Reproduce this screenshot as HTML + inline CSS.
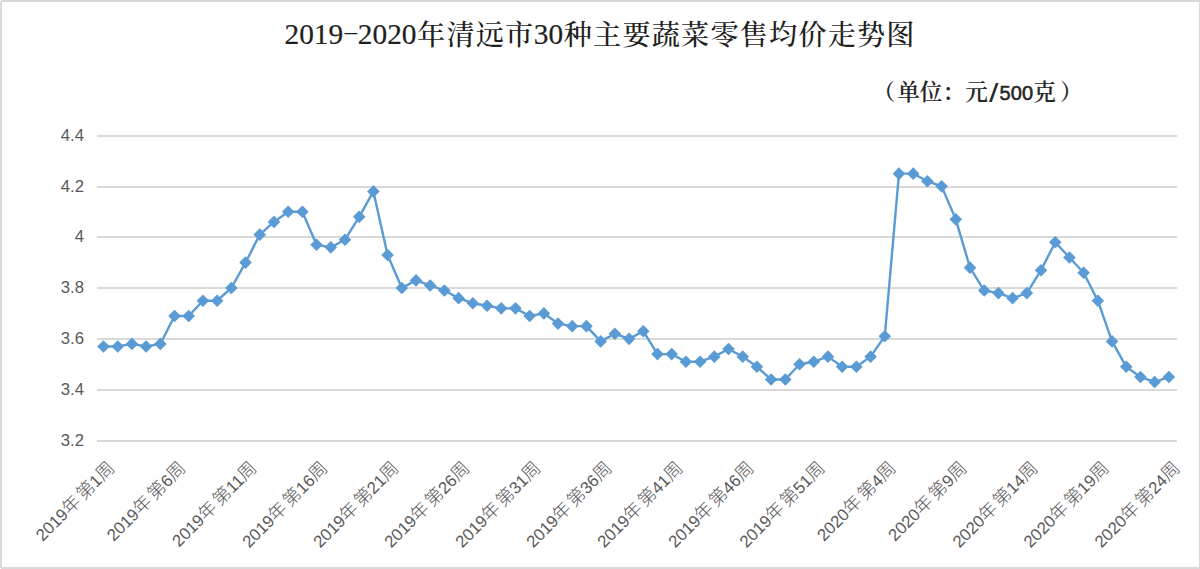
<!DOCTYPE html>
<html><head><meta charset="utf-8"><title>2019-2020年清远市30种主要蔬菜零售均价走势图</title>
<style>
html,body{margin:0;padding:0;background:#fff;}
body{width:1200px;height:569px;overflow:hidden;}
svg{display:block;}
.t{font-family:"Liberation Serif","Noto Serif CJK SC",serif;fill:#1f1f1f;font-weight:500;}
.td{stroke:#1f1f1f;stroke-width:0.2px;font-weight:400;}
.u{font-family:"Liberation Sans","Noto Serif CJK SC",sans-serif;fill:#262626;font-weight:600;}
.u2{font-family:"Liberation Sans",sans-serif;fill:#262626;stroke:#262626;stroke-width:0.55px;}
.us{font-family:"Liberation Sans",sans-serif;fill:#262626;}
.ya{font-family:"Liberation Sans","Noto Sans CJK SC",sans-serif;fill:#595959;font-size:16.7px;}
.xa{font-family:"Liberation Sans","Noto Sans CJK SC",sans-serif;fill:#595959;font-size:18px;font-weight:300;}
.xd{font-size:16.8px;font-weight:400;}
</style></head><body>
<svg width="1200" height="569" viewBox="0 0 1200 569">
<rect x="0" y="0" width="1200" height="569" fill="#fff"/>

<g fill="#D9D9D9"><rect x="1" y="0" width="1199" height="2"/><rect x="0" y="1" width="2" height="567"/><rect x="1" y="567" width="1199" height="2"/><rect x="1199" y="0" width="1" height="569"/></g>
<rect x="97" y="135" width="1080" height="2" fill="#D9D9D9"/>
<rect x="97" y="186" width="1080" height="2" fill="#D9D9D9"/>
<rect x="97" y="236" width="1080" height="2" fill="#D9D9D9"/>
<rect x="97" y="287" width="1080" height="2" fill="#D9D9D9"/>
<rect x="97" y="338" width="1080" height="2" fill="#D9D9D9"/>
<rect x="97" y="389" width="1080" height="2" fill="#D9D9D9"/>
<rect x="97" y="440" width="1080" height="2" fill="#D9D9D9"/>
<text class="ya" x="84" y="141.00" text-anchor="end">4.4</text>
<text class="ya" x="84" y="192.00" text-anchor="end">4.2</text>
<text class="ya" x="84" y="242.00" text-anchor="end">4</text>
<text class="ya" x="84" y="293.00" text-anchor="end">3.8</text>
<text class="ya" x="84" y="344.00" text-anchor="end">3.6</text>
<text class="ya" x="84" y="395.00" text-anchor="end">3.4</text>
<text class="ya" x="84" y="446.00" text-anchor="end">3.2</text>
<text class="t td" y="44" font-size="29.33" x="284.5 299.2 313.8 328.5">2019</text>
<text class="t" font-size="29.33" text-anchor="middle" transform="translate(350.85 33.4) scale(1.700 0.650)" x="0" y="7.60">-</text>
<text class="t td" y="44" font-size="29.33" x="357.8 372.5 387.2 401.8">2020</text>
<text class="t" y="45.00" font-size="28.20" x="417.1 446.4 475.7 505.0">年清远市</text>
<text class="t td" y="44" font-size="29.33" x="533.8 548.5">30</text>
<text class="t" y="45.00" font-size="28.20" x="563.7 593.0 622.4 651.7 681.0 710.4 739.7 769.0 798.3 827.7 857.0 886.3">种主要蔬菜零售均价走势图</text>
<text class="u" y="99.7" font-size="22.67" x="872.5 897.2 919.8 942.5 965.2">（单位：元</text>
<text class="us" font-size="22.67" text-anchor="middle" transform="translate(993.7 94.1) scale(1.500 1.130)" x="0" y="7.00">/</text>
<text class="u2" y="99.7" font-size="20.00" x="999.5 1010.8 1022.1">500</text>
<text class="u" y="99.7" font-size="22.67" x="1033.2 1060.0">克）</text>
<path d="M103.50 346.46 L117.70 346.46 L131.91 343.92 L146.12 346.46 L160.32 343.92 L174.53 315.96 L188.73 315.96 L202.94 300.71 L217.14 300.71 L231.34 288.00 L245.55 262.58 L259.75 234.63 L273.96 221.92 L288.16 211.75 L302.37 211.75 L316.57 244.79 L330.78 247.33 L344.99 239.71 L359.19 216.83 L373.39 191.42 L387.60 254.96 L401.81 288.00 L416.01 280.38 L430.21 285.46 L444.42 290.54 L458.62 298.17 L472.83 303.25 L487.04 305.79 L501.24 308.33 L515.44 308.33 L529.65 315.96 L543.86 313.42 L558.06 323.58 L572.26 326.13 L586.47 326.13 L600.67 341.38 L614.88 333.75 L629.09 338.83 L643.29 331.21 L657.50 354.08 L671.70 354.08 L685.90 361.71 L700.11 361.71 L714.32 356.63 L728.52 349.00 L742.73 356.63 L756.93 366.79 L771.13 379.50 L785.34 379.50 L799.54 364.25 L813.75 361.71 L827.96 356.63 L842.16 366.79 L856.37 366.79 L870.57 356.63 L884.77 336.29 L898.98 173.63 L913.19 173.63 L927.39 181.25 L941.60 186.33 L955.80 219.37 L970.00 267.67 L984.21 290.54 L998.41 293.08 L1012.62 298.17 L1026.83 293.08 L1041.03 270.21 L1055.24 242.25 L1069.44 257.50 L1083.64 272.75 L1097.85 300.71 L1112.05 341.38 L1126.26 366.79 L1140.46 376.96 L1154.67 382.04 L1168.88 376.96" fill="none" stroke="#5B9BD5" stroke-width="2.4" stroke-linejoin="round" stroke-linecap="round"/>
<path d="M103.50 340.16L109.80 346.46L103.50 352.76L97.20 346.46Z" fill="#5B9BD5"/>
<path d="M117.70 340.16L124.00 346.46L117.70 352.76L111.41 346.46Z" fill="#5B9BD5"/>
<path d="M131.91 337.62L138.21 343.92L131.91 350.22L125.61 343.92Z" fill="#5B9BD5"/>
<path d="M146.12 340.16L152.42 346.46L146.12 352.76L139.81 346.46Z" fill="#5B9BD5"/>
<path d="M160.32 337.62L166.62 343.92L160.32 350.22L154.02 343.92Z" fill="#5B9BD5"/>
<path d="M174.53 309.66L180.83 315.96L174.53 322.26L168.22 315.96Z" fill="#5B9BD5"/>
<path d="M188.73 309.66L195.03 315.96L188.73 322.26L182.43 315.96Z" fill="#5B9BD5"/>
<path d="M202.94 294.41L209.24 300.71L202.94 307.01L196.63 300.71Z" fill="#5B9BD5"/>
<path d="M217.14 294.41L223.44 300.71L217.14 307.01L210.84 300.71Z" fill="#5B9BD5"/>
<path d="M231.34 281.70L237.65 288.00L231.34 294.30L225.04 288.00Z" fill="#5B9BD5"/>
<path d="M245.55 256.28L251.85 262.58L245.55 268.88L239.25 262.58Z" fill="#5B9BD5"/>
<path d="M259.75 228.33L266.06 234.63L259.75 240.93L253.45 234.63Z" fill="#5B9BD5"/>
<path d="M273.96 215.62L280.26 221.92L273.96 228.22L267.66 221.92Z" fill="#5B9BD5"/>
<path d="M288.16 205.45L294.46 211.75L288.16 218.05L281.86 211.75Z" fill="#5B9BD5"/>
<path d="M302.37 205.45L308.67 211.75L302.37 218.05L296.07 211.75Z" fill="#5B9BD5"/>
<path d="M316.57 238.49L322.88 244.79L316.57 251.09L310.27 244.79Z" fill="#5B9BD5"/>
<path d="M330.78 241.03L337.08 247.33L330.78 253.63L324.48 247.33Z" fill="#5B9BD5"/>
<path d="M344.99 233.41L351.29 239.71L344.99 246.01L338.69 239.71Z" fill="#5B9BD5"/>
<path d="M359.19 210.53L365.49 216.83L359.19 223.13L352.89 216.83Z" fill="#5B9BD5"/>
<path d="M373.39 185.12L379.69 191.42L373.39 197.72L367.09 191.42Z" fill="#5B9BD5"/>
<path d="M387.60 248.66L393.90 254.96L387.60 261.26L381.30 254.96Z" fill="#5B9BD5"/>
<path d="M401.81 281.70L408.11 288.00L401.81 294.30L395.50 288.00Z" fill="#5B9BD5"/>
<path d="M416.01 274.07L422.31 280.38L416.01 286.68L409.71 280.38Z" fill="#5B9BD5"/>
<path d="M430.21 279.16L436.51 285.46L430.21 291.76L423.91 285.46Z" fill="#5B9BD5"/>
<path d="M444.42 284.24L450.72 290.54L444.42 296.84L438.12 290.54Z" fill="#5B9BD5"/>
<path d="M458.62 291.87L464.93 298.17L458.62 304.47L452.32 298.17Z" fill="#5B9BD5"/>
<path d="M472.83 296.95L479.13 303.25L472.83 309.55L466.53 303.25Z" fill="#5B9BD5"/>
<path d="M487.04 299.49L493.34 305.79L487.04 312.09L480.74 305.79Z" fill="#5B9BD5"/>
<path d="M501.24 302.03L507.54 308.33L501.24 314.63L494.94 308.33Z" fill="#5B9BD5"/>
<path d="M515.44 302.03L521.74 308.33L515.44 314.63L509.14 308.33Z" fill="#5B9BD5"/>
<path d="M529.65 309.66L535.95 315.96L529.65 322.26L523.35 315.96Z" fill="#5B9BD5"/>
<path d="M543.86 307.12L550.15 313.42L543.86 319.72L537.56 313.42Z" fill="#5B9BD5"/>
<path d="M558.06 317.28L564.36 323.58L558.06 329.88L551.76 323.58Z" fill="#5B9BD5"/>
<path d="M572.26 319.83L578.56 326.13L572.26 332.43L565.97 326.13Z" fill="#5B9BD5"/>
<path d="M586.47 319.83L592.77 326.13L586.47 332.43L580.17 326.13Z" fill="#5B9BD5"/>
<path d="M600.67 335.08L606.97 341.38L600.67 347.68L594.38 341.38Z" fill="#5B9BD5"/>
<path d="M614.88 327.45L621.18 333.75L614.88 340.05L608.58 333.75Z" fill="#5B9BD5"/>
<path d="M629.09 332.53L635.38 338.83L629.09 345.13L622.79 338.83Z" fill="#5B9BD5"/>
<path d="M643.29 324.91L649.59 331.21L643.29 337.51L636.99 331.21Z" fill="#5B9BD5"/>
<path d="M657.50 347.78L663.79 354.08L657.50 360.38L651.20 354.08Z" fill="#5B9BD5"/>
<path d="M671.70 347.78L678.00 354.08L671.70 360.38L665.40 354.08Z" fill="#5B9BD5"/>
<path d="M685.90 355.41L692.20 361.71L685.90 368.01L679.61 361.71Z" fill="#5B9BD5"/>
<path d="M700.11 355.41L706.41 361.71L700.11 368.01L693.81 361.71Z" fill="#5B9BD5"/>
<path d="M714.32 350.33L720.62 356.63L714.32 362.93L708.02 356.63Z" fill="#5B9BD5"/>
<path d="M728.52 342.70L734.82 349.00L728.52 355.30L722.22 349.00Z" fill="#5B9BD5"/>
<path d="M742.73 350.33L749.02 356.63L742.73 362.93L736.43 356.63Z" fill="#5B9BD5"/>
<path d="M756.93 360.49L763.23 366.79L756.93 373.09L750.63 366.79Z" fill="#5B9BD5"/>
<path d="M771.13 373.20L777.43 379.50L771.13 385.80L764.84 379.50Z" fill="#5B9BD5"/>
<path d="M785.34 373.20L791.64 379.50L785.34 385.80L779.04 379.50Z" fill="#5B9BD5"/>
<path d="M799.54 357.95L805.84 364.25L799.54 370.55L793.25 364.25Z" fill="#5B9BD5"/>
<path d="M813.75 355.41L820.05 361.71L813.75 368.01L807.45 361.71Z" fill="#5B9BD5"/>
<path d="M827.96 350.33L834.25 356.63L827.96 362.93L821.66 356.63Z" fill="#5B9BD5"/>
<path d="M842.16 360.49L848.46 366.79L842.16 373.09L835.86 366.79Z" fill="#5B9BD5"/>
<path d="M856.37 360.49L862.66 366.79L856.37 373.09L850.07 366.79Z" fill="#5B9BD5"/>
<path d="M870.57 350.33L876.87 356.63L870.57 362.93L864.27 356.63Z" fill="#5B9BD5"/>
<path d="M884.77 329.99L891.07 336.29L884.77 342.59L878.48 336.29Z" fill="#5B9BD5"/>
<path d="M898.98 167.33L905.28 173.63L898.98 179.93L892.68 173.63Z" fill="#5B9BD5"/>
<path d="M913.19 167.33L919.49 173.63L913.19 179.93L906.89 173.63Z" fill="#5B9BD5"/>
<path d="M927.39 174.95L933.69 181.25L927.39 187.55L921.09 181.25Z" fill="#5B9BD5"/>
<path d="M941.60 180.03L947.89 186.33L941.60 192.63L935.30 186.33Z" fill="#5B9BD5"/>
<path d="M955.80 213.07L962.10 219.37L955.80 225.67L949.50 219.37Z" fill="#5B9BD5"/>
<path d="M970.00 261.37L976.30 267.67L970.00 273.97L963.71 267.67Z" fill="#5B9BD5"/>
<path d="M984.21 284.24L990.51 290.54L984.21 296.84L977.91 290.54Z" fill="#5B9BD5"/>
<path d="M998.41 286.78L1004.71 293.08L998.41 299.38L992.12 293.08Z" fill="#5B9BD5"/>
<path d="M1012.62 291.87L1018.92 298.17L1012.62 304.47L1006.32 298.17Z" fill="#5B9BD5"/>
<path d="M1026.83 286.78L1033.12 293.08L1026.83 299.38L1020.53 293.08Z" fill="#5B9BD5"/>
<path d="M1041.03 263.91L1047.33 270.21L1041.03 276.51L1034.73 270.21Z" fill="#5B9BD5"/>
<path d="M1055.24 235.95L1061.54 242.25L1055.24 248.55L1048.94 242.25Z" fill="#5B9BD5"/>
<path d="M1069.44 251.20L1075.74 257.50L1069.44 263.80L1063.14 257.50Z" fill="#5B9BD5"/>
<path d="M1083.64 266.45L1089.94 272.75L1083.64 279.05L1077.35 272.75Z" fill="#5B9BD5"/>
<path d="M1097.85 294.41L1104.15 300.71L1097.85 307.01L1091.55 300.71Z" fill="#5B9BD5"/>
<path d="M1112.05 335.08L1118.35 341.38L1112.05 347.68L1105.75 341.38Z" fill="#5B9BD5"/>
<path d="M1126.26 360.49L1132.56 366.79L1126.26 373.09L1119.96 366.79Z" fill="#5B9BD5"/>
<path d="M1140.46 370.66L1146.76 376.96L1140.46 383.26L1134.16 376.96Z" fill="#5B9BD5"/>
<path d="M1154.67 375.74L1160.97 382.04L1154.67 388.34L1148.37 382.04Z" fill="#5B9BD5"/>
<path d="M1168.88 370.66L1175.17 376.96L1168.88 383.26L1162.58 376.96Z" fill="#5B9BD5"/>
<text class="xa" text-anchor="end" transform="translate(115.70 469.00) rotate(-45)"><tspan class="xd">2019</tspan>年<tspan dx="2.5">第</tspan><tspan class="xd">1</tspan>周</text>
<text class="xa" text-anchor="end" transform="translate(186.72 469.00) rotate(-45)"><tspan class="xd">2019</tspan>年<tspan dx="2.5">第</tspan><tspan class="xd">6</tspan>周</text>
<text class="xa" text-anchor="end" transform="translate(257.75 469.00) rotate(-45)"><tspan class="xd">2019</tspan>年<tspan dx="2.5">第</tspan><tspan class="xd">11</tspan>周</text>
<text class="xa" text-anchor="end" transform="translate(328.77 469.00) rotate(-45)"><tspan class="xd">2019</tspan>年<tspan dx="2.5">第</tspan><tspan class="xd">16</tspan>周</text>
<text class="xa" text-anchor="end" transform="translate(399.80 469.00) rotate(-45)"><tspan class="xd">2019</tspan>年<tspan dx="2.5">第</tspan><tspan class="xd">21</tspan>周</text>
<text class="xa" text-anchor="end" transform="translate(470.82 469.00) rotate(-45)"><tspan class="xd">2019</tspan>年<tspan dx="2.5">第</tspan><tspan class="xd">26</tspan>周</text>
<text class="xa" text-anchor="end" transform="translate(541.85 469.00) rotate(-45)"><tspan class="xd">2019</tspan>年<tspan dx="2.5">第</tspan><tspan class="xd">31</tspan>周</text>
<text class="xa" text-anchor="end" transform="translate(612.88 469.00) rotate(-45)"><tspan class="xd">2019</tspan>年<tspan dx="2.5">第</tspan><tspan class="xd">36</tspan>周</text>
<text class="xa" text-anchor="end" transform="translate(683.90 469.00) rotate(-45)"><tspan class="xd">2019</tspan>年<tspan dx="2.5">第</tspan><tspan class="xd">41</tspan>周</text>
<text class="xa" text-anchor="end" transform="translate(754.93 469.00) rotate(-45)"><tspan class="xd">2019</tspan>年<tspan dx="2.5">第</tspan><tspan class="xd">46</tspan>周</text>
<text class="xa" text-anchor="end" transform="translate(825.95 469.00) rotate(-45)"><tspan class="xd">2019</tspan>年<tspan dx="2.5">第</tspan><tspan class="xd">51</tspan>周</text>
<text class="xa" text-anchor="end" transform="translate(896.98 469.00) rotate(-45)"><tspan class="xd">2020</tspan>年<tspan dx="2.5">第</tspan><tspan class="xd">4</tspan>周</text>
<text class="xa" text-anchor="end" transform="translate(968.00 469.00) rotate(-45)"><tspan class="xd">2020</tspan>年<tspan dx="2.5">第</tspan><tspan class="xd">9</tspan>周</text>
<text class="xa" text-anchor="end" transform="translate(1039.03 469.00) rotate(-45)"><tspan class="xd">2020</tspan>年<tspan dx="2.5">第</tspan><tspan class="xd">14</tspan>周</text>
<text class="xa" text-anchor="end" transform="translate(1110.05 469.00) rotate(-45)"><tspan class="xd">2020</tspan>年<tspan dx="2.5">第</tspan><tspan class="xd">19</tspan>周</text>
<text class="xa" text-anchor="end" transform="translate(1181.08 469.00) rotate(-45)"><tspan class="xd">2020</tspan>年<tspan dx="2.5">第</tspan><tspan class="xd">24</tspan>周</text>
</svg></body></html>
